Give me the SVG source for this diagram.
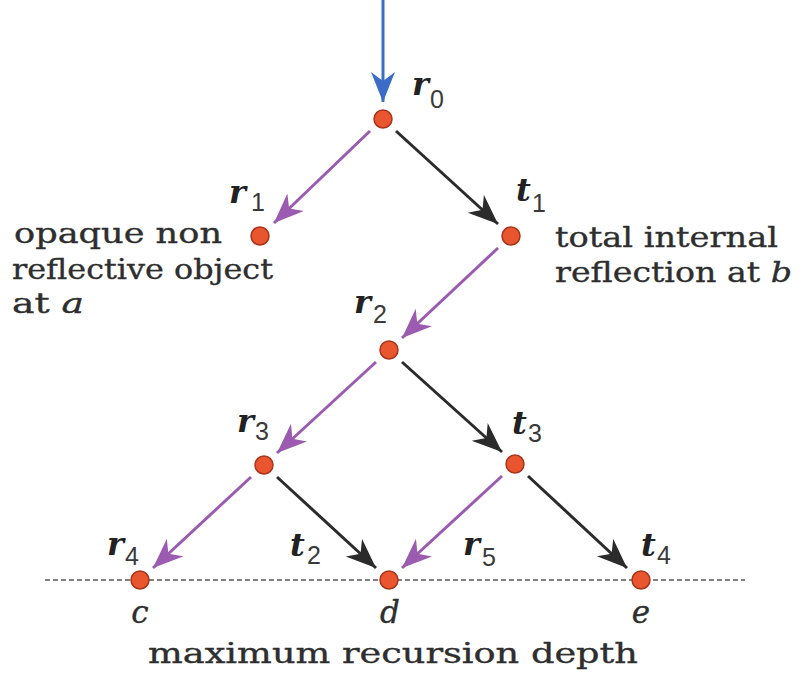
<svg xmlns="http://www.w3.org/2000/svg" width="802" height="677" viewBox="0 0 802 677">
<style>
.txt{font-family:"DejaVu Serif","Liberation Serif",serif;font-size:28px;fill:#2e2e2e;stroke:#2e2e2e;stroke-width:0.35}
.it{font-style:italic}
.big{font-size:31px}
.lbl{font-family:"DejaVu Serif","Liberation Serif",serif;font-size:32px;font-weight:bold;font-style:italic;fill:#222}
.sub{font-family:"Liberation Sans","DejaVu Sans",sans-serif;font-size:25px;fill:#3a3a3a}
.node{fill:#e8552f;stroke:#a8341c;stroke-width:1.5}
.p{stroke:#9a5bb0;stroke-width:3;fill:none}
.k{stroke:#2b2b2b;stroke-width:3;fill:none}
.b{stroke:#3b6cc7;stroke-width:3;fill:none}
</style>
<defs>
<marker id="ap" markerWidth="11" markerHeight="9" refX="10" refY="4" orient="auto" markerUnits="strokeWidth"><path d="M0,0 L10,4 L0,8 L3,4 z" fill="#9a5bb0"/></marker>
<marker id="ak" markerWidth="11" markerHeight="9" refX="10" refY="4" orient="auto" markerUnits="strokeWidth"><path d="M0,0 L10,4 L0,8 L3,4 z" fill="#2b2b2b"/></marker>
<marker id="ab" markerWidth="11" markerHeight="9" refX="10" refY="4" orient="auto" markerUnits="strokeWidth"><path d="M0,0 L10,4 L0,8 L3,4 z" fill="#3b6cc7"/></marker>
</defs>
<rect width="802" height="677" fill="#ffffff"/>
<line x1="45" y1="580" x2="745" y2="580" stroke="#555" stroke-width="1.5" stroke-dasharray="5 3"/>
<g id="connectors">
<line class="b" x1="383" y1="0" x2="383" y2="102" marker-end="url(#ab)"/>
<line class="p" x1="370" y1="131" x2="274" y2="223" marker-end="url(#ap)"/>
<line class="k" x1="396" y1="131" x2="498" y2="224" marker-end="url(#ak)"/>
<line class="p" x1="498" y1="248" x2="402" y2="338" marker-end="url(#ap)"/>
<line class="p" x1="376" y1="362" x2="277" y2="453" marker-end="url(#ap)"/>
<line class="k" x1="402" y1="362" x2="502" y2="452" marker-end="url(#ak)"/>
<line class="p" x1="251" y1="477" x2="153" y2="568" marker-end="url(#ap)"/>
<line class="k" x1="277" y1="477" x2="376" y2="568" marker-end="url(#ak)"/>
<line class="p" x1="502" y1="476" x2="402" y2="568" marker-end="url(#ap)"/>
<line class="k" x1="528" y1="476" x2="627" y2="568" marker-end="url(#ak)"/>
</g>
<g id="r0"><circle class="node" cx="383" cy="119" r="9"/><text class="lbl" x="412" y="95">r</text><text class="sub" x="430" y="108">0</text></g>
<g id="r1"><circle class="node" cx="260" cy="236" r="9"/><text class="lbl" x="229" y="203">r</text><text class="sub" x="251" y="211">1</text></g>
<g id="t1"><circle class="node" cx="511" cy="236" r="9"/><text class="lbl" x="516" y="201">t</text><text class="sub" x="532" y="212">1</text></g>
<g id="r2"><circle class="node" cx="389" cy="350" r="9"/><text class="lbl" x="354" y="313">r</text><text class="sub" x="373" y="323">2</text></g>
<g id="r3"><circle class="node" cx="264" cy="465" r="9"/><text class="lbl" x="237" y="432">r</text><text class="sub" x="255" y="440">3</text></g>
<g id="t3"><circle class="node" cx="515" cy="464" r="9"/><text class="lbl" x="512" y="434">t</text><text class="sub" x="528" y="442">3</text></g>
<g id="r4"><circle class="node" cx="140" cy="580" r="9"/><text class="lbl" x="107" y="555">r</text><text class="sub" x="125" y="565">4</text></g>
<g id="t2"><text class="lbl" x="290" y="556">t</text><text class="sub" x="307" y="564">2</text></g>
<g id="d"><circle class="node" cx="389" cy="580" r="9"/></g>
<g id="r5"><text class="lbl" x="463" y="555">r</text><text class="sub" x="482" y="566">5</text></g>
<g id="t4"><circle class="node" cx="641" cy="580" r="9"/><text class="lbl" x="641" y="556">t</text><text class="sub" x="657" y="564">4</text></g>
<g id="texts">
<text class="txt" x="14" y="243" textLength="208" lengthAdjust="spacingAndGlyphs">opaque non</text>
<text class="txt" x="12" y="279" textLength="261" lengthAdjust="spacingAndGlyphs">reflective object</text>
<text class="txt" x="12" y="313" textLength="72" lengthAdjust="spacingAndGlyphs">at <tspan class="it">a</tspan></text>
<text class="txt" x="555" y="247" textLength="223" lengthAdjust="spacingAndGlyphs">total internal</text>
<text class="txt" x="555" y="282" textLength="237" lengthAdjust="spacingAndGlyphs">reflection at <tspan class="it">b</tspan></text>
<text class="txt it big" x="140" y="623" text-anchor="middle">c</text>
<text class="txt it big" x="390" y="623" text-anchor="middle">d</text>
<text class="txt it big" x="641" y="623" text-anchor="middle">e</text>
<text class="txt" x="148" y="663" textLength="490" lengthAdjust="spacingAndGlyphs">maximum recursion depth</text>
</g>
</svg>
